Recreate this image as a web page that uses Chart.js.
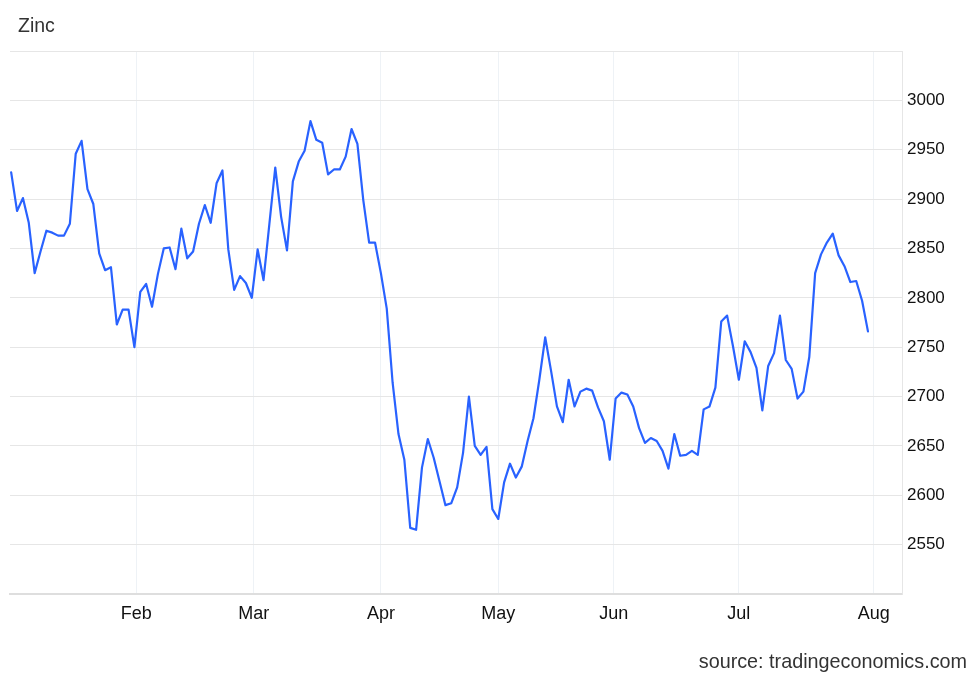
<!DOCTYPE html>
<html>
<head>
<meta charset="utf-8">
<title>Zinc</title>
<script src="https://cdn.jsdelivr.net/npm/chart.js"></script>
<style>
  body { margin: 0; background: #fff; font-family: "Liberation Sans", Arial, sans-serif; }
  #wrap { position: relative; width: 980px; height: 679px; }
  #title { position: absolute; left: 18px; top: 14px; font-size: 19.5px; color: #333; }
  #source { position: absolute; right: 13px; top: 650px; font-size: 19.8px; color: #333; }
  canvas { position: absolute; left: 0; top: 0; }
</style>
</head>
<body>
<div id="wrap">
  <canvas id="zincChart" width="980" height="679"></canvas>
  <div id="title">Zinc</div>
  <div id="source">source: tradingeconomics.com</div>
</div>
<script>
// daily closes, Jan 2 .. Jul 31 (trading days only)
const zincPrices = [
  2927, 2888, 2901, 2876, 2825, 2847, 2868, 2866, 2863, 2863,
  2875, 2946, 2959, 2910, 2895, 2845, 2828, 2831, 2773, 2788,
  2788, 2750, 2806, 2814, 2791, 2824, 2850, 2851, 2829, 2870,
  2840, 2847, 2875, 2894, 2876, 2916, 2929, 2849, 2808, 2822,
  2815, 2800, 2849, 2818, 2875, 2932, 2882, 2848, 2918, 2938,
  2949, 2979, 2960, 2957, 2925, 2930, 2930, 2943, 2971, 2956,
  2899, 2856, 2856, 2825, 2789, 2714, 2662, 2636, 2567, 2565,
  2628, 2657, 2638, 2614, 2590, 2592, 2608, 2643, 2700, 2650,
  2641, 2649, 2586, 2576, 2613, 2632, 2618, 2629, 2655, 2678,
  2717, 2760, 2726, 2690, 2674, 2717, 2690, 2705, 2708, 2706,
  2689, 2675, 2636, 2698, 2704, 2702, 2690, 2668, 2653, 2658,
  2655, 2645, 2627, 2662, 2640, 2641, 2645, 2641, 2687, 2690,
  2709, 2776, 2782, 2751, 2717, 2756, 2745, 2729, 2686, 2731,
  2744, 2782, 2737, 2728, 2698, 2705, 2740, 2825, 2844, 2856,
  2865, 2843, 2832, 2816, 2817, 2797, 2766
];

// month starts, placed in trading-day units
const monthLabels = ['Feb', 'Mar', 'Apr', 'May', 'Jun', 'Jul', 'Aug'];
const monthTickPos = [21.33, 41.33, 63, 83, 102.67, 124, 147];

const yMin = 2500;
const yMax = 3050;
const yStep = 50;

const ctx = document.getElementById('zincChart');

new Chart(ctx, {
  type: 'line',
  data: {
    datasets: [{
      label: 'Zinc',
      data: zincPrices.map((v, i) => ({ x: i, y: v })),
      borderColor: '#2962ff',
      borderWidth: 2.2,
      borderJoinStyle: 'round',
      borderCapStyle: 'round',
      pointRadius: 0,
      tension: 0,
      fill: false
    }]
  },
  options: {
    responsive: false,
    animation: false,
    devicePixelRatio: 1,
    layout: { padding: { top: 51, left: 10, right: 0, bottom: 0 } },
    plugins: {
      legend: { display: false },
      tooltip: { enabled: false }
    },
    scales: {
      x: {
        type: 'linear',
        min: -0.2,
        max: 151.8,
        afterBuildTicks: scale => {
          scale.ticks = monthTickPos.map(v => ({ value: v }));
        },
        afterFit: scale => { scale.height = 85; },
        ticks: {
          autoSkip: false,
          maxRotation: 0,
          padding: 9,
          color: '#111',
          font: { family: 'Liberation Sans', size: 18 },
          callback: (v, i) => monthLabels[i]
        },
        grid: { color: '#eef2f6', drawTicks: false },
        border: { color: '#dedede', width: 2 }
      },
      y: {
        position: 'right',
        min: yMin,
        max: yMax,
        afterFit: scale => { scale.width = 78; },
        ticks: {
          stepSize: yStep,
          padding: 5,
          color: '#111',
          font: { family: 'Liberation Sans', size: 17 },
          callback: v => (v === yMin || v === yMax) ? '' : v
        },
        grid: { color: '#e6e6e6', drawTicks: false },
        border: { color: '#e6e6e6' }
      }
    }
  }
});
</script>
</body>
</html>
